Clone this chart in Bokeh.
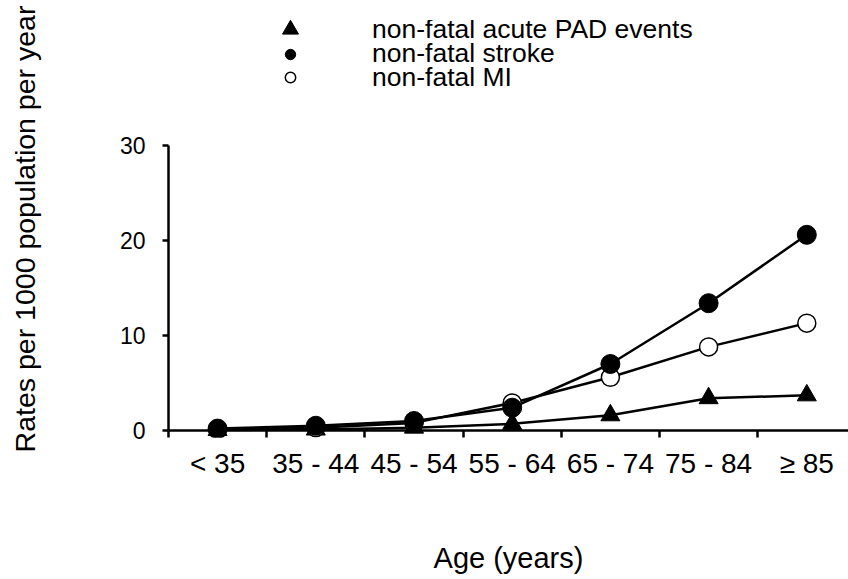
from bokeh.plotting import figure
from bokeh.models import FixedTicker, Range1d, Span, Legend, LegendItem
from bokeh.embed import file_html
from bokeh.resources import INLINE

categories = ["< 35", "35 - 44", "45 - 54", "55 - 64", "65 - 74", "75 - 84", "≥ 85"]
pad_events = [0.05, 0.1, 0.3, 0.7, 1.6, 3.4, 3.7]
stroke = [0.2, 0.5, 1.0, 2.4, 7.0, 13.4, 20.6]
mi = [0.1, 0.3, 0.8, 2.9, 5.6, 8.8, 11.3]
y_ticks = [0, 10, 20, 30]

FONT = "Liberation Sans"
xs = [i + 0.5 for i in range(len(categories))]

PX_PER_UNIT = 9.5
FRAME_TOP = 20
FRAME_BOTTOM = 437
FRAME_LEFT = 168
Y0 = 430  # pixel row of y = 0

p = figure(width=848, height=579, output_backend="svg", toolbar_location=None,
           x_range=Range1d(0, 680 / 98.2),
           y_range=Range1d(-(FRAME_BOTTOM - Y0) / PX_PER_UNIT, (Y0 - FRAME_TOP) / PX_PER_UNIT),
           min_border_left=FRAME_LEFT, min_border_right=0, min_border_top=FRAME_TOP,
           min_border_bottom=579 - FRAME_BOTTOM)
p.outline_line_color = None
p.grid.visible = False
p.background_fill_color = "white"
p.border_fill_color = "white"

# x axis
xa = p.xaxis[0]
xa.ticker = FixedTicker(ticks=xs, minor_ticks=list(range(len(categories) + 1)))
xa.major_label_overrides = {x: c for x, c in zip(xs, categories)}
xa.axis_line_color = None
xa.major_tick_line_color = None
xa.major_tick_in = 0
xa.major_tick_out = 0
xa.minor_tick_in = 7
xa.minor_tick_out = 0
xa.minor_tick_line_width = 2.5
xa.minor_tick_line_color = "black"
xa.major_label_text_font = FONT
xa.major_label_text_font_size = "28px"
xa.major_label_text_color = "black"
xa.major_label_standoff = 10
xa.axis_label = "Age (years)"
xa.axis_label_text_font = FONT
xa.axis_label_text_font_size = "29px"
xa.axis_label_text_font_style = "normal"
xa.axis_label_text_color = "black"
xa.axis_label_standoff = 60

p.add_layout(Span(location=0, dimension="width", line_color="black", line_width=2.5))

# y axis
ya = p.yaxis[0]
ya.ticker = FixedTicker(ticks=y_ticks)
ya.bounds = (0, 30)
ya.axis_line_width = 2.5
ya.axis_line_color = "black"
ya.major_tick_line_width = 2.5
ya.major_tick_in = 0
ya.major_tick_out = 6
ya.minor_tick_line_color = None
ya.major_label_text_font = FONT
ya.major_label_text_font_size = "23px"
ya.major_label_text_color = "black"
ya.major_label_standoff = 17
ya.axis_label = "Rates per 1000 population per year"
ya.axis_label_text_font = FONT
ya.axis_label_text_font_size = "28.5px"
ya.axis_label_text_font_style = "normal"
ya.axis_label_text_color = "black"
ya.axis_label_standoff = 76

# series
for vals in (pad_events, mi, stroke):
    p.line(xs, vals, line_color="black", line_width=2.5)

r_pad = p.scatter(xs, pad_events, marker="triangle", size=19, fill_color="black", line_color="black")
r_mi = p.scatter(xs, mi, marker="circle", size=18, fill_color="white", line_color="black", line_width=1.5)
r_str = p.scatter(xs, stroke, marker="circle", size=19, fill_color="black", line_color="black")

# legend: one Legend per entry so the legend glyph sizes can differ
glyph_cx = 290
text_x = 372
entries = [("non-fatal acute PAD events", r_pad, 29, 40),
           ("non-fatal stroke", r_str, 56, 26),
           ("non-fatal MI", r_mi, 79.5, 26)]
for label, r, cy, g in entries:
    lg = Legend(items=[LegendItem(label=label, renderers=[r])],
                location=(glyph_cx - g / 2 - FRAME_LEFT, FRAME_BOTTOM - (cy + g / 2)),
                glyph_width=g, glyph_height=g, label_height=g,
                label_standoff=int(text_x - (glyph_cx + g / 2)),
                padding=0, margin=0, spacing=0,
                border_line_color=None, background_fill_alpha=0,
                label_text_font=FONT, label_text_font_size="26.5px",
                label_text_color="black")
    p.add_layout(lg)

open("out.html", "w").write(file_html(p, INLINE))
